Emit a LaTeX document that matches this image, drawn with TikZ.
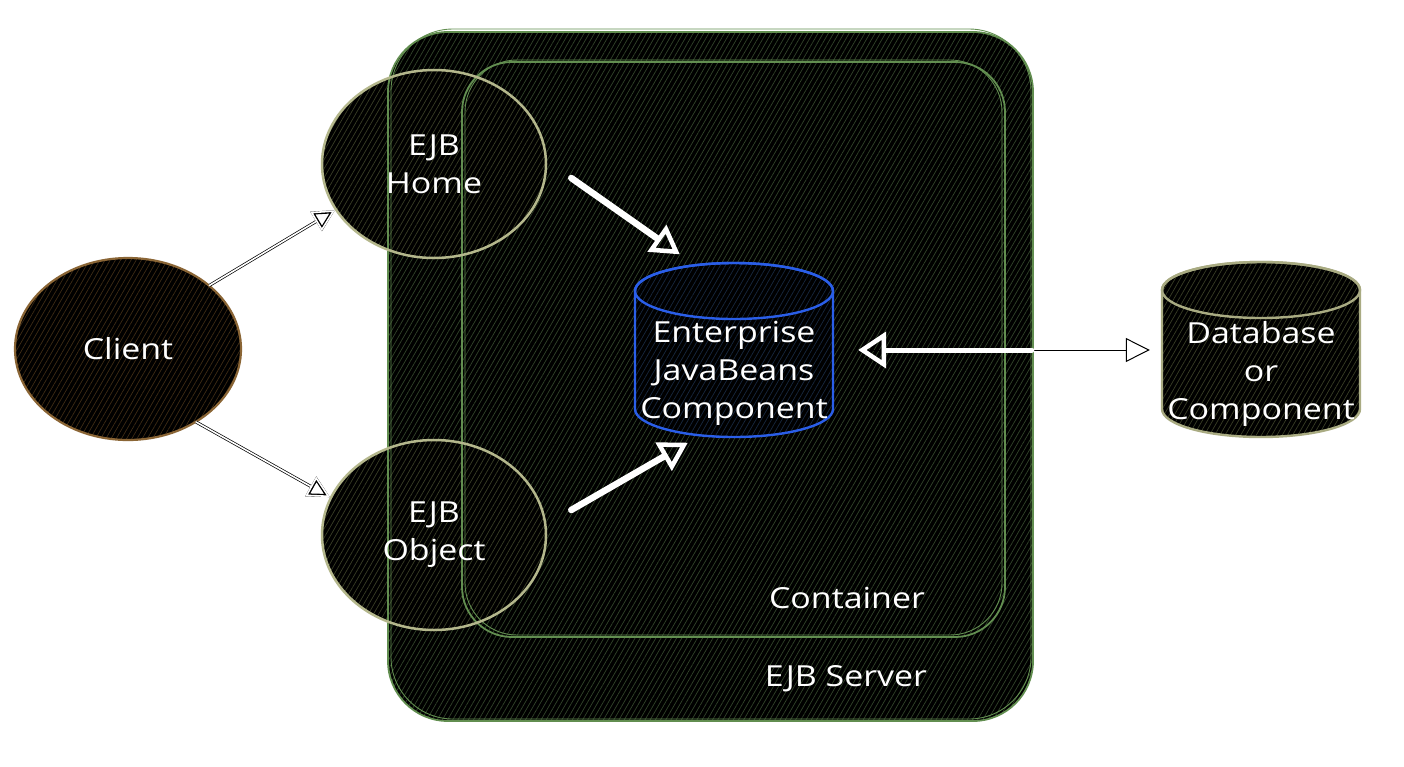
\documentclass[tikz,border=0pt]{standalone}
\usepackage{fontspec}
\setmainfont{Open Sans}[FakeStretch=1.17]
\usetikzlibrary{shapes.geometric,patterns.meta,arrows.meta}
\definecolor{boxgreen}{HTML}{628E50}
\definecolor{hatchgreen}{HTML}{32442A}
\definecolor{khaki}{HTML}{B4B78C}
\definecolor{hatcholive}{HTML}{393E26}
\definecolor{clientbrown}{HTML}{8A6535}
\definecolor{hatchbrown}{HTML}{3E2C15}
\definecolor{beanblue}{HTML}{2A5EE8}
\definecolor{hatchblue}{HTML}{18283F}
\definecolor{dbkhaki}{HTML}{A9AB82}
\pgfdeclarelayer{bg}
\pgfdeclarelayer{mid}
\pgfsetlayers{bg,mid,main}
\tikzset{
  hatch/.style={preaction={fill=black}, pattern={Lines[angle=60,distance=4.5pt,line width=0.7pt]}, pattern color=#1},
  lbl/.style={text=white, font=\fontsize{29}{38}\selectfont, align=center, inner sep=0pt},
  bubble/.style={ellipse, minimum width=224pt, minimum height=188pt, inner sep=0pt, draw=khaki, line width=2.5pt, text=white, font=\fontsize{29}{38}\selectfont, align=center},
  boxedge/.style={draw=boxgreen, line width=1.8pt},
  boxedgetwo/.style={draw=boxgreen, line width=0.9pt},
  cylzone/.style={rectangle, minimum width=198pt, minimum height=175pt, inner sep=0pt},
  thinarrow/.style={draw=white, line width=1.6pt, line cap=round, line join=round, preaction={draw=black, line width=3pt}, -{Triangle[open,length=22pt,width=22pt]}},
  thickarrow/.style={draw=white, line width=6.5pt, line cap=round, line join=round, -{Triangle[open,length=28pt,width=32pt,line width=4.5pt]}},
}
\begin{document}
\begin{tikzpicture}[x=1pt,y=-1pt]
\useasboundingbox (0,0) rectangle (1404,766);

% nodes
\node[ellipse, minimum width=226pt, minimum height=182pt, inner sep=0pt, draw=clientbrown, line width=2.2pt, hatch=hatchbrown, text=white, font=\fontsize{29}{38}\selectfont] (client) at (128,349) {Client};
\node[bubble] (home) at (434,164) {EJB\\Home};
\node[bubble, minimum height=190pt] (object) at (434,535) {EJB\\Object};
\node[cylzone] (ejb) at (734,350) {};
\node[lbl] (ejbtext) at (734,373) {Enterprise\\JavaBeans\\Component};
\node[cylzone] (db) at (1261,350) {};
\node[lbl] (dbtext) at (1261,374) {Database\\or\\Component};
\node[lbl] (cont) at (847,598) {Container};
\node[lbl] (srv) at (846,679) {EJB Server};

\begin{pgfonlayer}{bg}
\fill[white] (0,0) rectangle (1404,766);
\path[hatch=hatchgreen, rounded corners=60pt] (388,32) rectangle (1033,721);
\path[hatch=hatcholive] (home.center) ellipse[x radius=112, y radius=94];
\path[hatch=hatcholive] (object.center) ellipse[x radius=112, y radius=95];
\end{pgfonlayer}

\begin{pgfonlayer}{mid}
\draw[boxedge, rounded corners=60pt] (388,32) rectangle (1033,721);
\draw[boxedgetwo, rounded corners=62pt] (391,29) rectangle (1031,719);
\draw[boxedge, rounded corners=50pt] (462,62) rectangle (1005,637);
\draw[boxedgetwo, rounded corners=52pt] (465,60) rectangle (1002,635);
% Enterprise JavaBeans cylinder
\draw[beanblue, line width=2.4pt, hatch=hatchblue] (635,291) -- (635,409) arc[start angle=180,end angle=0,x radius=99,y radius=28] -- (833,291) arc[start angle=0,end angle=-180,x radius=99,y radius=28] -- cycle;
\draw[beanblue, line width=2.4pt] (734,291) ellipse[x radius=99, y radius=28];
% Database cylinder
\draw[dbkhaki, line width=2.4pt, hatch=hatcholive] (1162,290) -- (1162,409) arc[start angle=180,end angle=0,x radius=99,y radius=28] -- (1360,290) arc[start angle=0,end angle=-180,x radius=99,y radius=28] -- cycle;
\draw[dbkhaki, line width=2.4pt] (1261,290) ellipse[x radius=99, y radius=28];
\end{pgfonlayer}

% connectors
\draw[thinarrow] (client.38) -- (home.205);
\draw[thinarrow] (client.-47) -- (object.160);
\draw[thickarrow] ([shift={(24,14)}]home.east) -- ([shift={(45,-8)}]ejb.north west);
\draw[thickarrow] ([shift={(24,-25)}]object.east) -- ([shift={(53,5)}]ejb.south west);
\draw[black, line width=1pt, shorten <=25pt, shorten >=12pt, -{Triangle[open,length=24pt,width=24pt]}] (ejb.east) -- (db.west);
\draw[white, line width=5pt, line cap=round, shorten <=25pt, shorten >=130pt, {Triangle[open,length=28pt,width=36pt,line width=4.5pt]}-] (ejb.east) -- (db.west);
\end{tikzpicture}
\end{document}
